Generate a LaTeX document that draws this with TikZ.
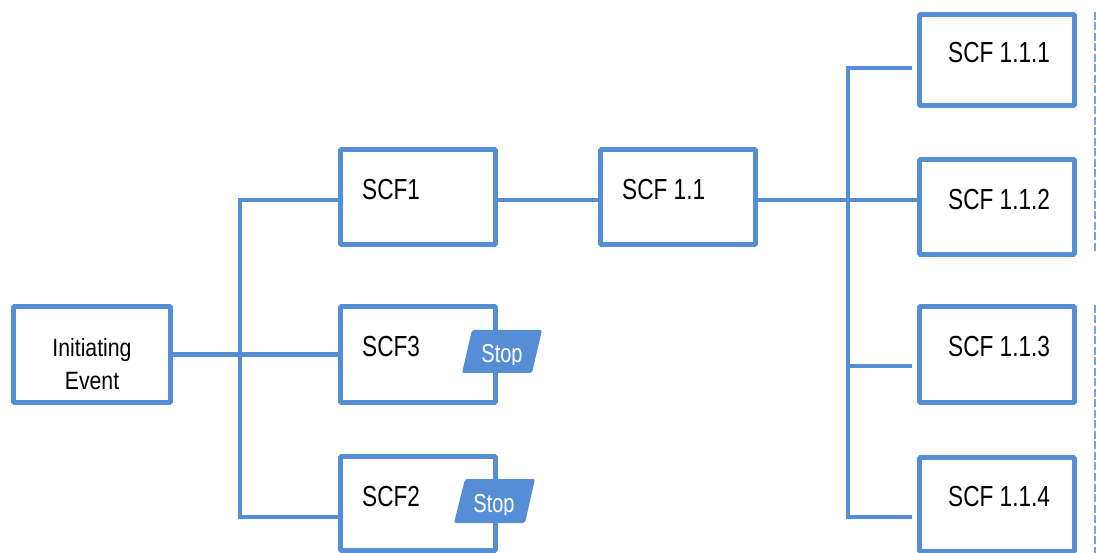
\documentclass[tikz,border=0pt]{standalone}
\usepackage{fontspec}
\setmainfont{Liberation Sans}
\usetikzlibrary{calc}
\definecolor{flow}{RGB}{85,142,213}
\definecolor{guide}{RGB}{125,160,212}
\tikzset{
  stage/.style={draw=flow, line width=4.8pt, rounded corners=1pt, fill=white,
    inner sep=0pt, minimum width=155pt, minimum height=95pt},
  link/.style={draw=flow, line width=4.8pt, line join=miter},
  scflabel/.style={inner sep=0pt, anchor=base west,
    font=\fontsize{29}{34}\selectfont},
  stoptag/.style={fill=flow, rounded corners=2pt},
  stoptext/.style={inner sep=0pt, anchor=base, text=white,
    font=\fontsize{26}{30}\selectfont},
  guideline/.style={draw=guide, line width=1.4pt, dash pattern=on 8pt off 2.5pt}
}
\newcommand{\narrow}[2][0.78]{\scalebox{#1}[1]{#2}}
\begin{document}
\begin{tikzpicture}[x=1pt,y=-1pt]
\useasboundingbox (0,0) rectangle (1096,553);

% event tree boxes
\node[stage, minimum width=157pt, minimum height=96pt] (init) at (92,354.5) {};
\node[stage] (scf1) at (418,197) {};
\node[stage, minimum height=96pt] (scf3) at (418,354.5) {};
\node[stage, minimum height=94pt] (scf2) at (418,503.5) {};
\node[stage] (scf11) at (678,197) {};
\node[stage, minimum height=91pt] (r1) at (997,60) {};
\node[stage] (r2) at (997,207) {};
\node[stage, minimum height=96pt] (r3) at (997,354.5) {};
\node[stage, minimum height=94pt] (r4) at (997,504.5) {};

% junction points of the branching lines
\coordinate (jA) at (240,200);
\coordinate (jB) at (240,517);
\coordinate (jC) at (848,68);
\coordinate (jD) at (848,517);
\coordinate (e1) at (912,68);
\coordinate (e3) at (912,366);
\coordinate (e4) at (912,517);

% first branching: initiating event to SCF1 / SCF3 / SCF2
\draw[link] (init.east) -- (scf3.west);
\draw[link] (scf1.west |- jA) -- (jA) -- (jB) -- (scf2.west |- jB);
% SCF1 to SCF 1.1 to SCF 1.1.2
\draw[link] (scf1.east |- jA) -- (scf11.west |- jA);
\draw[link] (scf11.east |- jA) -- (r2.west |- jA);
% second branching spine
\draw[link] (e1) -- (jC) -- (jD) -- (e4);
\draw[link] (jC |- e3) -- (e3);

% box texts
\node[scflabel, font=\fontsize{25}{34}\selectfont, anchor=center, align=center] (tinit) at (92,364)
  {\narrow[0.85]{Initiating}\\[-0.5pt]\narrow[0.85]{Event}};
\node[scflabel] (t1) at (362,200) {\narrow{SCF1}};
\node[scflabel] (t3) at (362,357) {\narrow{SCF3}};
\node[scflabel] (t2) at (362,507) {\narrow{SCF2}};
\node[scflabel] (t11) at (622,200) {\narrow{SCF 1.1}};
\node[scflabel] (t111) at (948,63) {\narrow{SCF 1.1.1}};
\node[scflabel] (t112) at (948,210) {\narrow{SCF 1.1.2}};
\node[scflabel] (t113) at (948,357) {\narrow{SCF 1.1.3}};
\node[scflabel] (t114) at (948,506) {\narrow{SCF 1.1.4}};

% stop tags on SCF3 and SCF2
\path[stoptag] (462,373) -- (472,330) -- (542,330) -- (532,373) -- cycle;
\path[stoptag] (454,523) -- (465,479) -- (535,479) -- (525,523) -- cycle;
\begin{scope}
  \clip (460,330) rectangle (545,365);
  \node[stoptext] (stop3) at (502,363) {\narrow[0.77]{Stop}};
\end{scope}
\begin{scope}
  \clip (452,479) rectangle (537,514);
  \node[stoptext] (stop2) at (494,512) {\narrow[0.77]{Stop}};
\end{scope}

% dashed guides at the right edge
\coordinate (g1) at (1095,12);
\coordinate (g2) at (1095,252);
\coordinate (g3) at (1095,305);
\coordinate (g4) at (1095,553);
\draw[guideline] (g1) -- (g2);
\draw[guideline] (g3) -- (g4);
\end{tikzpicture}
\end{document}
